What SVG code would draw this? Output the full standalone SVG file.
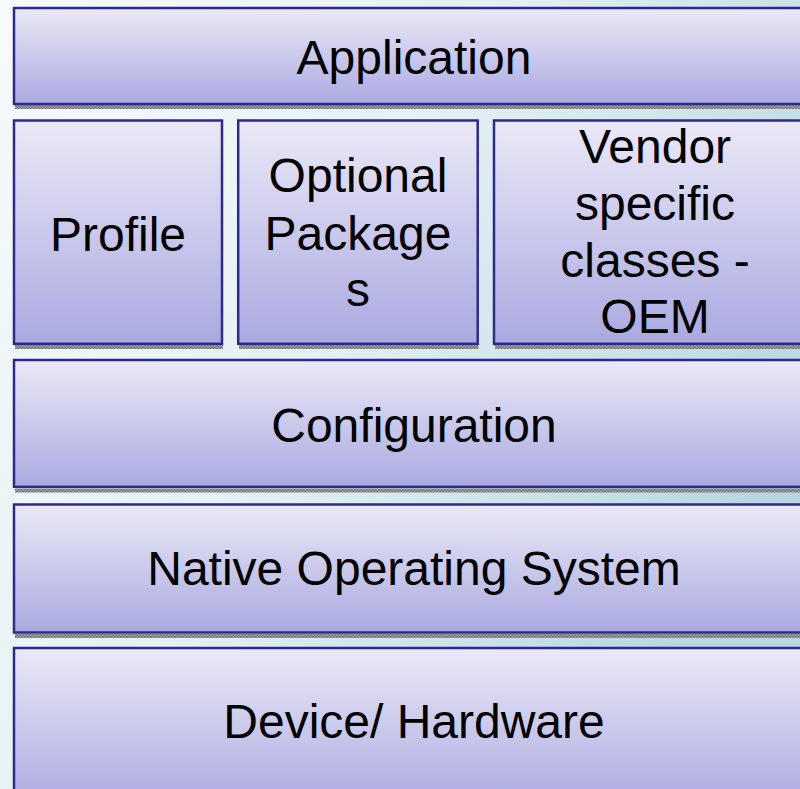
<svg xmlns="http://www.w3.org/2000/svg" width="800" height="789" viewBox="0 0 800 789">
<defs>
<linearGradient id="bg" x1="0" y1="0" x2="1" y2="0.5">
<stop offset="0" stop-color="#f8fafc"/>
<stop offset="0.5" stop-color="#e4f0f3"/>
<stop offset="1" stop-color="#b8d8e1"/>
</linearGradient>
<linearGradient id="box" x1="0" y1="0" x2="0" y2="1">
<stop offset="0" stop-color="#ebe9f7"/>
<stop offset="1" stop-color="#aaa9e0"/>
</linearGradient>
<pattern id="chk" width="3" height="3" patternUnits="userSpaceOnUse">
<rect width="3" height="3" fill="#a6a6a6"/>
<rect width="1.5" height="1.5" fill="#6f6f6f"/>
<rect x="1.5" y="1.5" width="1.5" height="1.5" fill="#6f6f6f"/>
</pattern>
</defs>
<style>
.b{fill:url(#box);stroke:#2b2a8e;stroke-width:2.5}
.s{fill:url(#chk)}
.t{font-family:"Liberation Sans",Arial,sans-serif;font-size:48px;fill:#000;text-anchor:middle}
</style>
<rect width="800" height="789" fill="url(#bg)"/>
<g id="application">
<rect class="s" x="15" y="105" width="800" height="4"/>
<rect class="b" x="14" y="8" width="800" height="96"/>
<text class="t" x="414" y="74">Application</text>
</g>
<g id="profile">
<rect class="s" x="15" y="345" width="208" height="4"/>
<rect class="b" x="14" y="120.5" width="208" height="223.3"/>
<text class="t" x="118" y="251">Profile</text>
</g>
<g id="optional">
<rect class="s" x="239" y="345" width="239.5" height="4"/>
<rect class="b" x="238.2" y="120.5" width="239.5" height="223.3"/>
<text class="t" x="358" y="192">Optional</text>
<text class="t" x="358" y="250">Package</text>
<text class="t" x="358" y="306">s</text>
</g>
<g id="vendor">
<rect class="s" x="495" y="345" width="330" height="4"/>
<rect class="b" x="494" y="120.5" width="330" height="223.3"/>
<text class="t" x="655" y="163">Vendor</text>
<text class="t" x="655" y="220">specific</text>
<text class="t" x="655" y="277">classes -</text>
<text class="t" x="655" y="333">OEM</text>
</g>
<g id="configuration">
<rect class="s" x="15" y="488.5" width="800" height="4"/>
<rect class="b" x="14" y="360" width="800" height="126.8"/>
<text class="t" x="414" y="442">Configuration</text>
</g>
<g id="native">
<rect class="s" x="15" y="634" width="800" height="4"/>
<rect class="b" x="14" y="504.5" width="800" height="128"/>
<text class="t" x="414" y="585">Native Operating System</text>
</g>
<g id="device">
<rect class="b" x="14" y="648" width="800" height="160"/>
<text class="t" x="414" y="738">Device/ Hardware</text>
</g>
<g id="connectors"/>
</svg>
